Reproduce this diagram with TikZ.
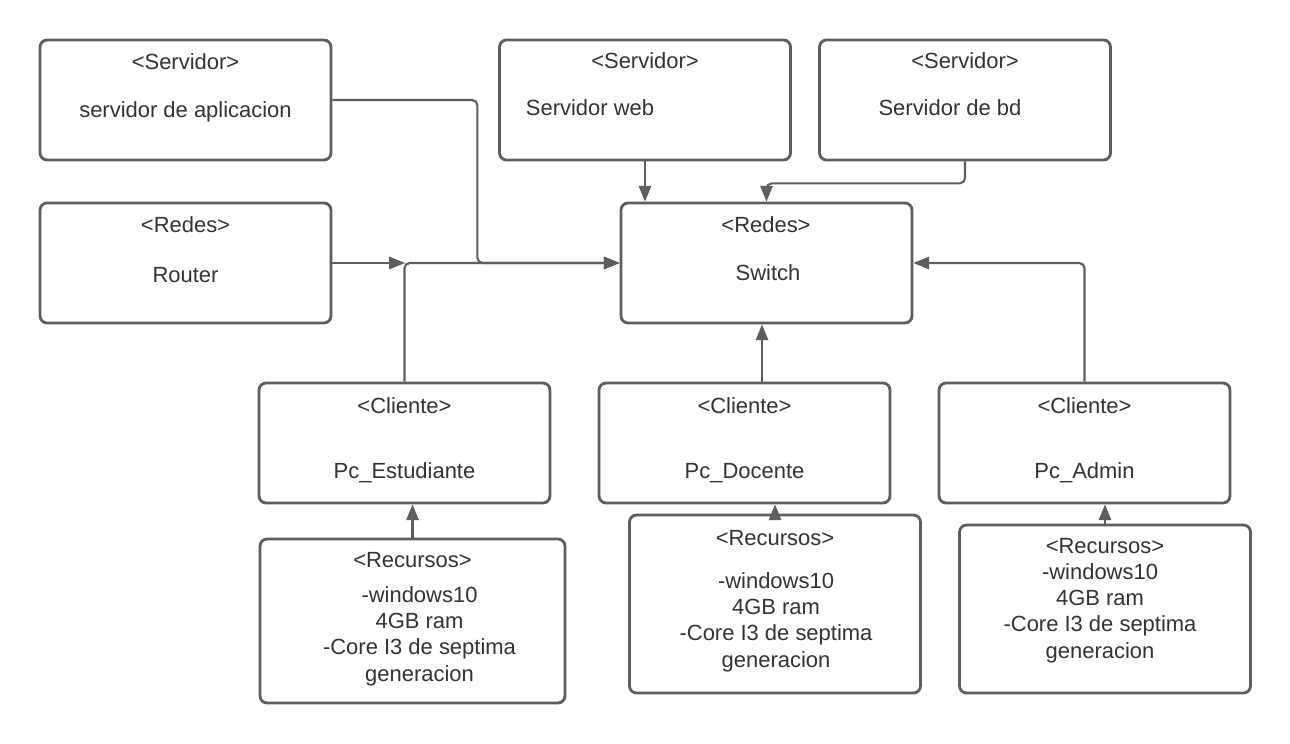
\documentclass[tikz,border=0pt]{standalone}
\usepackage{fontspec}
\setmainfont{Liberation Sans}
\usetikzlibrary{arrows.meta}
\definecolor{edge}{HTML}{5E5E5E}
\definecolor{ink}{HTML}{333333}

\begin{document}
\begin{tikzpicture}[x=0.02cm, y=-0.02cm,
    box/.style={draw=edge, line width=1.6pt, rounded corners=4pt, minimum width=5.82cm, minimum height=2.4cm, inner sep=0pt},
    lbl/.style={text=ink, font=\fontsize{12.5}{14.9}\selectfont, anchor=base, inner sep=0pt, align=center},
    link/.style={draw=edge, line width=1.2pt, rounded corners=3pt, -{Triangle[length=9pt, width=7pt]}}]
    \fill[white] (0,0) rectangle (1290,743);
    \useasboundingbox (0,0) rectangle (1290,743);
    % servidores
    \node[box] (apl) at (185.5,100) {};
    \node[lbl] (apl-t) at (185.5,70) {<Servidor>};
    \node[lbl] (apl-b) at (185.5,118) {servidor de aplicacion};
    \node[box] (web) at (645,100) {};
    \node[lbl] (web-t) at (645,69) {<Servidor>};
    \node[lbl] (web-b) at (590,116) {Servidor web};
    \node[box] (bd) at (965,100) {};
    \node[lbl] (bd-t) at (965,69) {<Servidor>};
    \node[lbl] (bd-b) at (950,116) {Servidor de bd};
    % redes
    \node[box] (rt) at (185.5,263) {};
    \node[lbl] (rt-t) at (185.5,233) {<Redes>};
    \node[lbl] (rt-b) at (185.5,282) {Router};
    \node[box] (sw) at (766.5,263) {};
    \node[lbl] (sw-t) at (766,233) {<Redes>};
    \node[lbl] (sw-b) at (768,280) {Switch};
    % clientes
    \node[box] (pce) at (404.5,443) {};
    \node[lbl] (pce-t) at (404.5,413) {<Cliente>};
    \node[lbl] (pce-b) at (404.5,478) {Pc\_Estudiante};
    \node[box] (pcd) at (744.5,443) {};
    \node[lbl] (pcd-t) at (744.5,413) {<Cliente>};
    \node[lbl] (pcd-b) at (744.5,478) {Pc\_Docente};
    \node[box] (pca) at (1084.5,443) {};
    \node[lbl] (pca-t) at (1084.5,413) {<Cliente>};
    \node[lbl] (pca-b) at (1084.5,478) {Pc\_Admin};
    % recursos (base of the text = last line)
    \node[box, minimum width=6.1cm, minimum height=3.28cm] (rec1) at (412.5,621) {};
    \node[lbl] (rec1-t) at (412.5,567) {<Recursos>};
    \node[lbl] (rec1-b) at (419.5,681) {-windows10\\4GB ram\\-Core I3 de septima\\generacion};
    \node[box, minimum height=3.56cm] (rec2) at (775,604) {};
    \node[lbl] (rec2-t) at (775,545) {<Recursos>};
    \node[lbl] (rec2-b) at (776,667) {-windows10\\4GB ram\\-Core I3 de septima\\generacion};
    \node[box, minimum height=3.36cm] (rec3) at (1105,609) {};
    \node[lbl] (rec3-t) at (1105,553) {<Recursos>};
    \node[lbl] (rec3-b) at (1100,658) {-windows10\\4GB ram\\-Core I3 de septima\\generacion};
    % conexiones
    \coordinate (jn) at (405,263);
    \draw[link] (apl.east) -- ++(145,0) |- (sw.west);
    \draw[link] (rt.east) -- (jn);
    \draw[link] (pce.north) |- (sw.west);
    \draw[link] (web.south) -- (web.south |- sw.north);
    \draw[link] (bd.south) -- ++(0,22) -| (sw.north);
    \draw[link] (pca.north) |- (sw.east);
    \draw[link] ([xshift=-0.09cm]sw.south |- pcd.north) -- ([xshift=-0.09cm]sw.south);
    \draw[link] (rec1.north) -- (rec1.north |- pce.south);
    \draw[link] (rec2.north) -- (rec2.north |- pcd.south);
    \draw[link] (rec3.north) -- (rec3.north |- pca.south);
\end{tikzpicture}
\end{document}
